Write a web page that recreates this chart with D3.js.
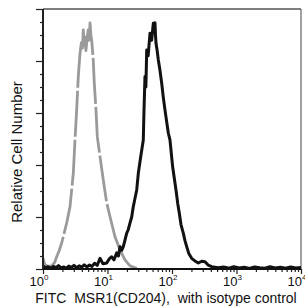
<!DOCTYPE html>
<html>
<head>
<meta charset="utf-8">
<script src="https://cdn.jsdelivr.net/npm/d3@7"></script>
<style>
  body { margin: 0; background: #fff; }
  svg { display: block; font-family: "Liberation Sans", Arial, sans-serif; }
</style>
</head>
<body>
<div id="chart"></div>
<script>
// decade position (log10 of fluorescence) and relative count (0-100)
const isoLog = [0.0, 0.03, 0.08, 0.135, 0.18, 0.212, 0.25, 0.29, 0.33, 0.367, 0.419, 0.47, 0.496, 0.522, 0.547,
  0.574, 0.6, 0.612, 0.625, 0.638, 0.651, 0.665, 0.678, 0.69, 0.702, 0.716, 0.729, 0.742, 0.755, 0.78, 0.795,
  0.822, 0.842, 0.884, 0.935, 0.988, 1.039, 1.116, 1.194, 1.271, 1.349, 1.453];
const isoCount = [4.2, 1.5, 1.0, 1.2, 2.5, 4.7, 7.0, 10, 14, 17.7, 24, 36.9, 49.6, 61.2, 74,
  83, 88, 85, 92, 86, 89.3, 84, 87, 90, 92, 88, 94.7, 90, 88, 80, 71.5,
  61, 50.9, 43.2, 34.2, 25.4, 20.1, 12.4, 7.3, 3.5, 1.2, 0.3];

const msrLog = [0.0, 0.04, 0.08, 0.12, 0.16, 0.2, 0.24, 0.28, 0.32, 0.36, 0.4, 0.44, 0.48, 0.52, 0.56,
  0.6, 0.64, 0.68, 0.72, 0.76, 0.8, 0.84, 0.884, 0.93, 0.988, 1.03, 1.065, 1.1, 1.143, 1.17, 1.194, 1.22,
  1.245, 1.27, 1.298, 1.32, 1.349, 1.375, 1.4, 1.425, 1.453, 1.478, 1.515, 1.555, 1.566, 1.581, 1.595,
  1.608, 1.63, 1.659, 1.685, 1.71, 1.725, 1.736, 1.744, 1.752, 1.77, 1.788, 1.81, 1.84, 1.865, 1.891,
  1.915, 1.943, 1.969, 2.01, 2.035, 2.062, 2.09, 2.113, 2.14, 2.175, 2.2, 2.228, 2.26, 2.305, 2.35,
  2.408, 2.46, 2.512, 2.56, 2.616, 2.718, 2.8, 2.88, 2.96, 3.04, 3.12, 3.2, 3.28, 3.36, 3.44, 3.52,
  3.6, 3.68, 3.76, 3.84, 3.92, 4.0];
const msrCount = [1.2, 0.4, 0.9, 0.3, 1.0, 0.5, 1.3, 0.4, 0.8, 0.3, 1.1, 0.6, 1.4, 0.5, 1.2,
  0.7, 1.6, 0.8, 1.5, 1.0, 2.2, 1.4, 4.1, 2.0, 2.3, 4.0, 4.7, 3.5, 6.2, 5.0, 8.6, 7.2,
  8.6, 11, 13.8, 15, 17.7, 20, 24, 27, 30.4, 36.9, 43.2, 49.6, 61.2, 74, 70,
  84.2, 82, 90.7, 88, 94.5, 91, 94.7, 90, 86.8, 84, 80.4, 77, 71.5, 66, 61.2,
  57, 52.3, 49.6, 39.3, 35, 30.4, 25, 21.5, 17, 13.8, 11, 8.6, 6, 4.1, 3.2,
  2.3, 3.0, 2.8, 1.5, 0.9, 0.5, 0.8, 0.3, 0.9, 0.4, 0.7, 0.2, 0.8, 0.5, 0.3, 0.9,
  0.4, 0.7, 0.3, 0.8, 0.4, 0.6];

const decades = [0, 1, 2, 3, 4];
const yMajor = [0, 20, 40, 60, 80, 100];
const yMinor = d3.range(0, 101, 5).filter(v => v % 20 !== 0);
const xTitle = "FITC  MSR1(CD204),  with isotype control";
const yTitle = "Relative Cell Number";

const width = 305, height = 306;
const margin = {top: 9, right: 4, bottom: 37, left: 43};

const svg = d3.select("#chart").append("svg")
    .attr("width", width)
    .attr("height", height);

const x = d3.scaleLog()
    .domain([1, 1e4])
    .range([margin.left, width - margin.right]);
const y = d3.scaleLinear()
    .domain([0, 100])
    .range([height - margin.bottom, margin.top]);

// frame: top and right
svg.append("line")
    .attr("x1", x(1)).attr("x2", x(1e4))
    .attr("y1", y(100)).attr("y2", y(100))
    .attr("stroke", "#555").attr("stroke-width", 1.5);
svg.append("line")
    .attr("x1", x(1e4)).attr("x2", x(1e4))
    .attr("y1", y(100)).attr("y2", y(0))
    .attr("stroke", "#444").attr("stroke-width", 1);

// curves
const line = d3.line()
    .x(d => x(Math.pow(10, d[0])))
    .y(d => y(d[1]));

svg.append("path")
    .datum(d3.zip(isoLog, isoCount))
    .attr("fill", "none")
    .attr("stroke", "#9a9a9a")
    .attr("stroke-width", 2.8)
    .attr("stroke-linejoin", "round")
    .attr("stroke-dasharray", "46,3")
    .attr("d", line);

svg.append("path")
    .datum(d3.zip(msrLog, msrCount))
    .attr("fill", "none")
    .attr("stroke", "#111")
    .attr("stroke-width", 3)
    .attr("stroke-linejoin", "round")
    .attr("d", line);

// y axis
const yAxis = svg.append("g").attr("transform", `translate(${margin.left},0)`);
yAxis.append("g")
    .call(d3.axisLeft(y).tickValues(yMajor).tickSize(7).tickFormat(""))
    .call(g => g.select(".domain").remove());
yAxis.append("g")
    .call(d3.axisLeft(y).tickValues(yMinor).tickSize(3).tickFormat(""))
    .call(g => g.select(".domain").remove());
yAxis.selectAll(".tick line").attr("stroke", "#222").attr("stroke-width", 1.2);
yAxis.append("line")
    .attr("y1", y(100)).attr("y2", y(0))
    .attr("stroke", "#222").attr("stroke-width", 2);

// x axis
const xMinor = [];
decades.slice(0, -1).forEach(p => d3.range(2, 10).forEach(k => xMinor.push(k * Math.pow(10, p))));
const xAxis = svg.append("g").attr("transform", `translate(0,${y(0)})`);
xAxis.append("g")
    .call(d3.axisBottom(x).tickValues(decades.map(p => Math.pow(10, p))).tickSize(5).tickFormat(""))
    .call(g => g.select(".domain").remove());
xAxis.append("g")
    .call(d3.axisBottom(x).tickValues(xMinor).tickSize(3).tickFormat(""))
    .call(g => g.select(".domain").remove());
xAxis.selectAll(".tick line").attr("stroke", "#222").attr("stroke-width", 1.2);
xAxis.append("line")
    .attr("x1", x(1)).attr("x2", x(1e4))
    .attr("stroke", "#111").attr("stroke-width", 2);

// decade labels 10^n
const lab = svg.append("g")
    .selectAll("text")
    .data(decades)
    .join("text")
    .attr("x", p => x(Math.pow(10, p)) - 4)
    .attr("y", 286)
    .attr("text-anchor", "middle")
    .attr("font-size", 13)
    .attr("fill", "#111");
lab.append("tspan").text("10");
lab.append("tspan")
    .attr("dy", -6)
    .attr("font-size", 8)
    .text(p => p);

// titles
svg.append("text")
    .attr("x", 166)
    .attr("y", 303)
    .attr("text-anchor", "middle")
    .attr("font-size", 14)
    .attr("fill", "#111")
    .style("white-space", "pre")
    .text(xTitle);

svg.append("text")
    .attr("transform", "translate(22,152) rotate(-90)")
    .attr("text-anchor", "middle")
    .attr("font-size", 15)
    .attr("fill", "#111")
    .text(yTitle);
</script>
</body>
</html>
